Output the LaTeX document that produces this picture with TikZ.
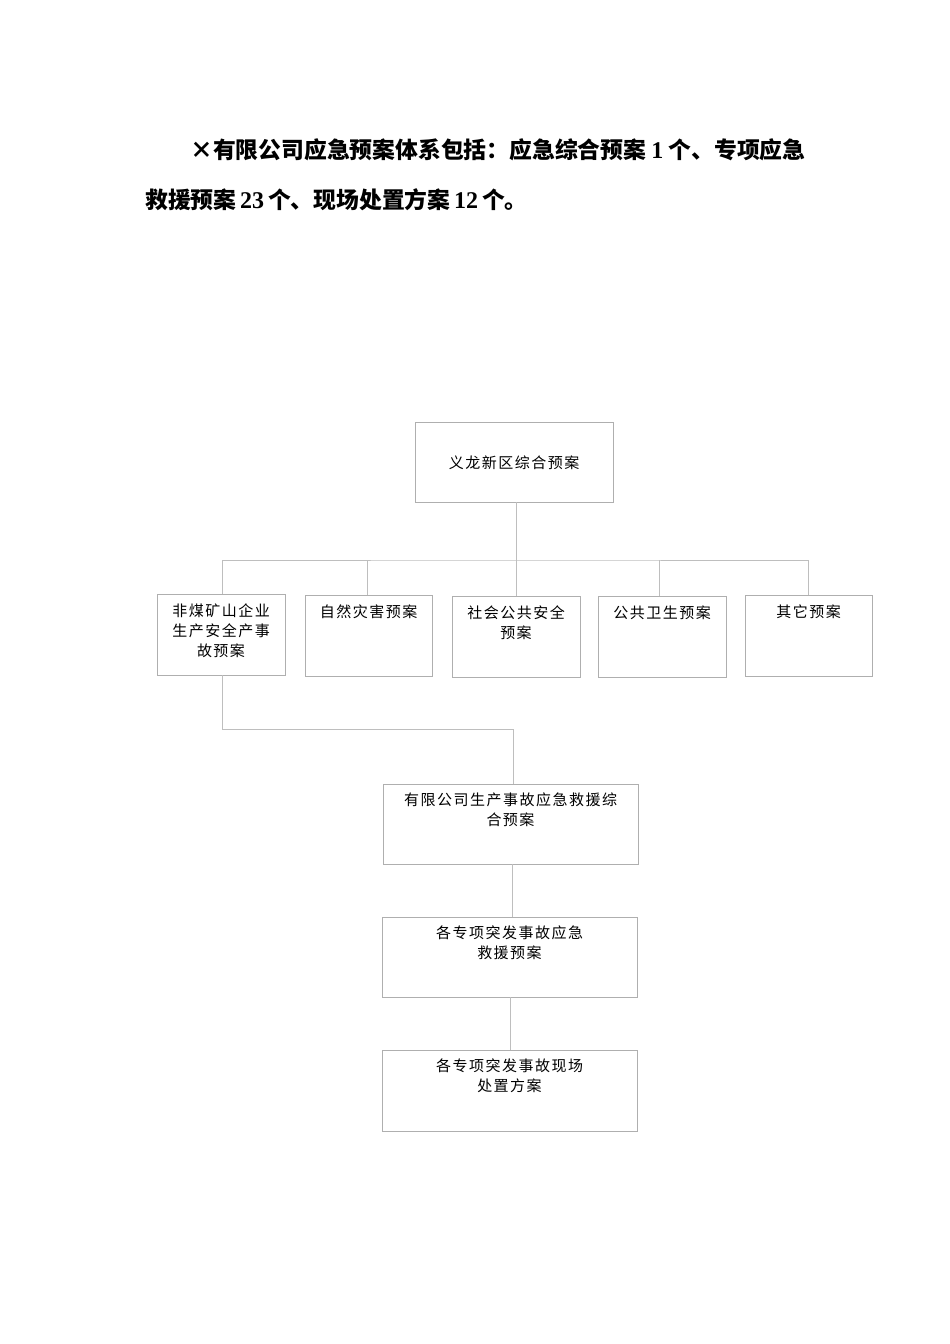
\documentclass[tikz,border=0pt]{standalone}
\usepackage{fontspec}
\newfontfamily\cjk{Noto Sans CJK SC}
\newfontfamily\cjkbox[LetterSpace=10]{Noto Sans CJK SC}
\newfontfamily\numfont{Liberation Serif}
\definecolor{linegray}{RGB}{190,190,190}
\definecolor{boxgray}{RGB}{175,175,175}
\tikzset{
  box/.style={draw=boxgray, line width=0.9pt, inner sep=0pt},
  conn/.style={draw=linegray, line width=0.9pt},
  boxtext/.style={anchor=north, inner sep=0pt, align=center, font=\cjkbox\fontsize{15pt}{20pt}\selectfont},
  head/.style={anchor=base west, inner sep=0pt, font=\cjk\bfseries\fontsize{22.8pt}{26pt}\selectfont}
}
\begin{document}
\begin{tikzpicture}[x=1pt,y=-1pt]
\useasboundingbox (0,0) rectangle (950,1344);
% header text
\node[head] (h1) at (190,158) {×有限公司应急预案体系包括：应急综合预案\ {\numfont\fontsize{24pt}{26pt}\selectfont 1}\ 个、专项应急};
\node[head] (h2) at (145,208) {救援预案\,{\numfont\fontsize{24pt}{26pt}\selectfont 23}\,个、现场处置方案\,{\numfont\fontsize{24pt}{26pt}\selectfont 12}\,个。};
% boxes
\node[box, minimum width=198pt, minimum height=80pt] (top) at (514,462) {};
\node[box, minimum width=128pt, minimum height=81pt] (b1) at (221,634.5) {};
\node[box, minimum width=127pt, minimum height=81pt] (b2) at (368.5,635.5) {};
\node[box, minimum width=128pt, minimum height=81pt] (b3) at (516,636.5) {};
\node[box, minimum width=128pt, minimum height=81pt] (b4) at (662,636.5) {};
\node[box, minimum width=127pt, minimum height=81pt] (b5) at (808.5,635.5) {};
\node[box, minimum width=255pt, minimum height=80pt] (c1) at (510.5,824) {};
\node[box, minimum width=255pt, minimum height=80pt] (c2) at (509.5,957) {};
\node[box, minimum width=255pt, minimum height=81pt] (c3) at (509.5,1090.5) {};
% texts
\node[boxtext, anchor=center] (ttop) at ([yshift=-1pt]top.center) {义龙新区综合预案};
\node[boxtext] (t1) at ([yshift=-10pt]b1.north) {非煤矿山企业\\生产安全产事\\故预案};
\node[boxtext] (t2) at ([yshift=-10pt]b2.north) {自然灾害预案};
\node[boxtext] (t3) at ([yshift=-10pt]b3.north) {社会公共安全\\预案};
\node[boxtext] (t4) at ([yshift=-10pt]b4.north) {公共卫生预案};
\node[boxtext] (t5) at ([yshift=-10pt]b5.north) {其它预案};
\node[boxtext] (tc1) at ([yshift=-9pt]c1.north) {有限公司生产事故应急救援综\\合预案};
\node[boxtext] (tc2) at ([yshift=-9pt]c2.north) {各专项突发事故应急\\救援预案};
\node[boxtext] (tc3) at ([yshift=-9pt]c3.north) {各专项突发事故现场\\处置方案};
% connectors
\coordinate (bus) at (516,560);
\draw[conn] (top.south -| bus) -- (bus);
\draw[conn] (b1.north -| 222,0) |- (bus) -| (b5.north -| 808,0);
\draw[conn] (bus -| 367,0) -- (b2.north -| 367,0);
\draw[conn] (bus) -- (b3.north -| bus);
\draw[conn] (bus -| 659,0) -- (b4.north -| 659,0);
\coordinate (mid) at (513,729);
\draw[conn] (b1.south -| 222,0) |- (mid) -- (c1.north -| mid);
\draw[conn] (c1.south -| 512,0) -- (c2.north -| 512,0);
\draw[conn] (c2.south -| 510,0) -- (c3.north -| 510,0);
\end{tikzpicture}
\end{document}
